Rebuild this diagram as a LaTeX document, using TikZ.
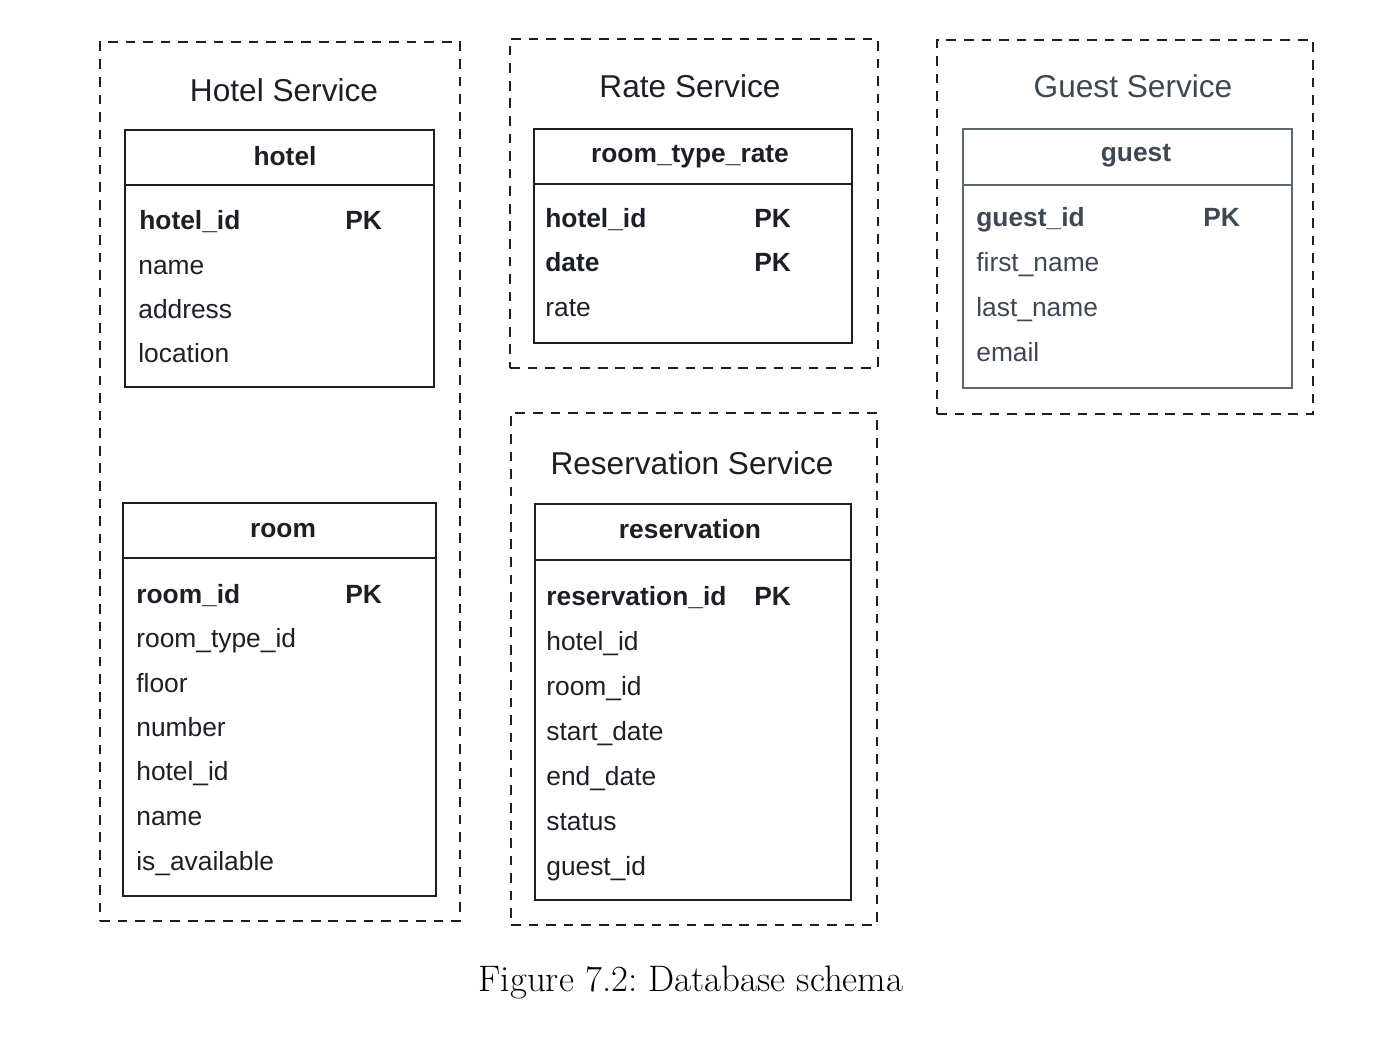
\documentclass[tikz,border=0pt]{standalone}
\usepackage{fontspec}
\newfontfamily\arialf{Liberation Sans}
\usetikzlibrary{fit}
\definecolor{ink}{RGB}{28,32,38}
\definecolor{gink}{RGB}{62,72,82}
\definecolor{gline}{RGB}{95,102,110}
\tikzset{
 svc/.style={draw=ink, line width=1.4pt, dash pattern=on 5.5pt off 4.5pt, inner sep=0pt},
 tbl/.style={draw=ink, line width=0.9pt, inner sep=0pt},
 svctitle/.style={font=\arialf\fontsize{18}{20}\selectfont, text=ink, anchor=base, inner sep=0pt},
 thead/.style={font=\arialf\bfseries\fontsize{15}{17}\selectfont, text=ink, anchor=base, inner sep=0pt},
 keyrow/.style={font=\arialf\bfseries\fontsize{15}{17}\selectfont, text=ink, anchor=base west, inner sep=0pt},
 row/.style={font=\arialf\fontsize{15}{17}\selectfont, text=ink, anchor=base west, inner sep=0pt},
 sepline/.style={draw=ink, line width=0.9pt},
 grey/.style={text=gink},
 figcap/.style={font=\frenchspacing\fontsize{21}{24}\selectfont, anchor=base, inner sep=0pt, text=black},
}
\begin{document}
\begin{tikzpicture}[x=0.02cm, y=-0.02cm]
\useasboundingbox (0,0) rectangle (1396,1043);

% ---------- Hotel Service ----------
\node[svc, fit={(100,42)(460,921)}] (hotelsvc) {};
\node[svctitle] (hotelsvcT) at (284,102) {Hotel Service};
\node[tbl, fit={(125,130)(434,387)}] (hotel) {};
\coordinate (hotelsep) at (125,185);
\draw[sepline] (hotel.west |- hotelsep) -- (hotel.east |- hotelsep);
\node[thead] (hotelH) at (285,166) {hotel};
\node[keyrow] (hotel1) at (139,230) {hotel\_id};
\node[keyrow] (hotel1pk) at (345,230) {PK};
\node[row] (hotel2) at (138,275) {name};
\node[row] (hotel3) at (138,319) {address};
\node[row] (hotel4) at (138,363) {location};

\node[tbl, fit={(123,503)(436,896)}] (room) {};
\coordinate (roomsep) at (123,558);
\draw[sepline] (room.west |- roomsep) -- (room.east |- roomsep);
\node[thead] (roomH) at (283,538) {room};
\node[keyrow] (room1) at (136,603) {room\_id};
\node[keyrow] (room1pk) at (345,603) {PK};
\node[row] (room2) at (136,647) {room\_type\_id};
\node[row] (room3) at (136,692) {floor};
\node[row] (room4) at (136,736) {number};
\node[row] (room5) at (136,780) {hotel\_id};
\node[row] (room6) at (136,825) {name};
\node[row] (room7) at (136,870) {is\_available};

% ---------- Rate Service ----------
\node[svc, fit={(510,39)(878,368)}] (ratesvc) {};
\node[svctitle] (ratesvcT) at (690,98) {Rate Service};
\node[tbl, fit={(534,129)(852,343)}] (rate) {};
\coordinate (ratesep) at (534,184);
\draw[sepline] (rate.west |- ratesep) -- (rate.east |- ratesep);
\node[thead] (rateH) at (690,163) {room\_type\_rate};
\node[keyrow] (rate1) at (545,228) {hotel\_id};
\node[keyrow] (rate1pk) at (754,228) {PK};
\node[keyrow] (rate2) at (545,272) {date};
\node[keyrow] (rate2pk) at (754,272) {PK};
\node[row] (rate3) at (545,317) {rate};

% ---------- Guest Service ----------
\node[svc, fit={(937,40)(1313,414)}] (guestsvc) {};
\node[svctitle, grey] (guestsvcT) at (1133,98) {Guest Service};
\node[tbl, draw=gline, fit={(963,129)(1292,388)}] (guest) {};
\coordinate (guestsep) at (963,185);
\draw[sepline, draw=gline] (guest.west |- guestsep) -- (guest.east |- guestsep);
\node[thead, grey] (guestH) at (1136,162) {guest};
\node[keyrow, grey] (guest1) at (976,227) {guest\_id};
\node[keyrow, grey] (guest1pk) at (1203,227) {PK};
\node[row, grey] (guest2) at (976,272) {first\_name};
\node[row, grey] (guest3) at (976,317) {last\_name};
\node[row, grey] (guest4) at (976,362) {email};

% ---------- Reservation Service ----------
\node[svc, fit={(511,413)(877,925)}] (ressvc) {};
\node[svctitle] (ressvcT) at (692,475) {Reservation Service};
\node[tbl, fit={(535,504)(851,900)}] (res) {};
\coordinate (ressep) at (535,560);
\draw[sepline] (res.west |- ressep) -- (res.east |- ressep);
\node[thead] (resH) at (690,539) {reservation};
\node[keyrow] (res1) at (546,605) {reservation\_id};
\node[keyrow] (res1pk) at (754,605) {PK};
\node[row] (res2) at (546,650) {hotel\_id};
\node[row] (res3) at (546,695) {room\_id};
\node[row] (res4) at (546,740) {start\_date};
\node[row] (res5) at (546,785) {end\_date};
\node[row] (res6) at (546,830) {status};
\node[row] (res7) at (546,875) {guest\_id};

% ---------- Caption ----------
\node[figcap] (caption) at (691,991) {Figure 7.2: Database schema};
\end{tikzpicture}
\end{document}
